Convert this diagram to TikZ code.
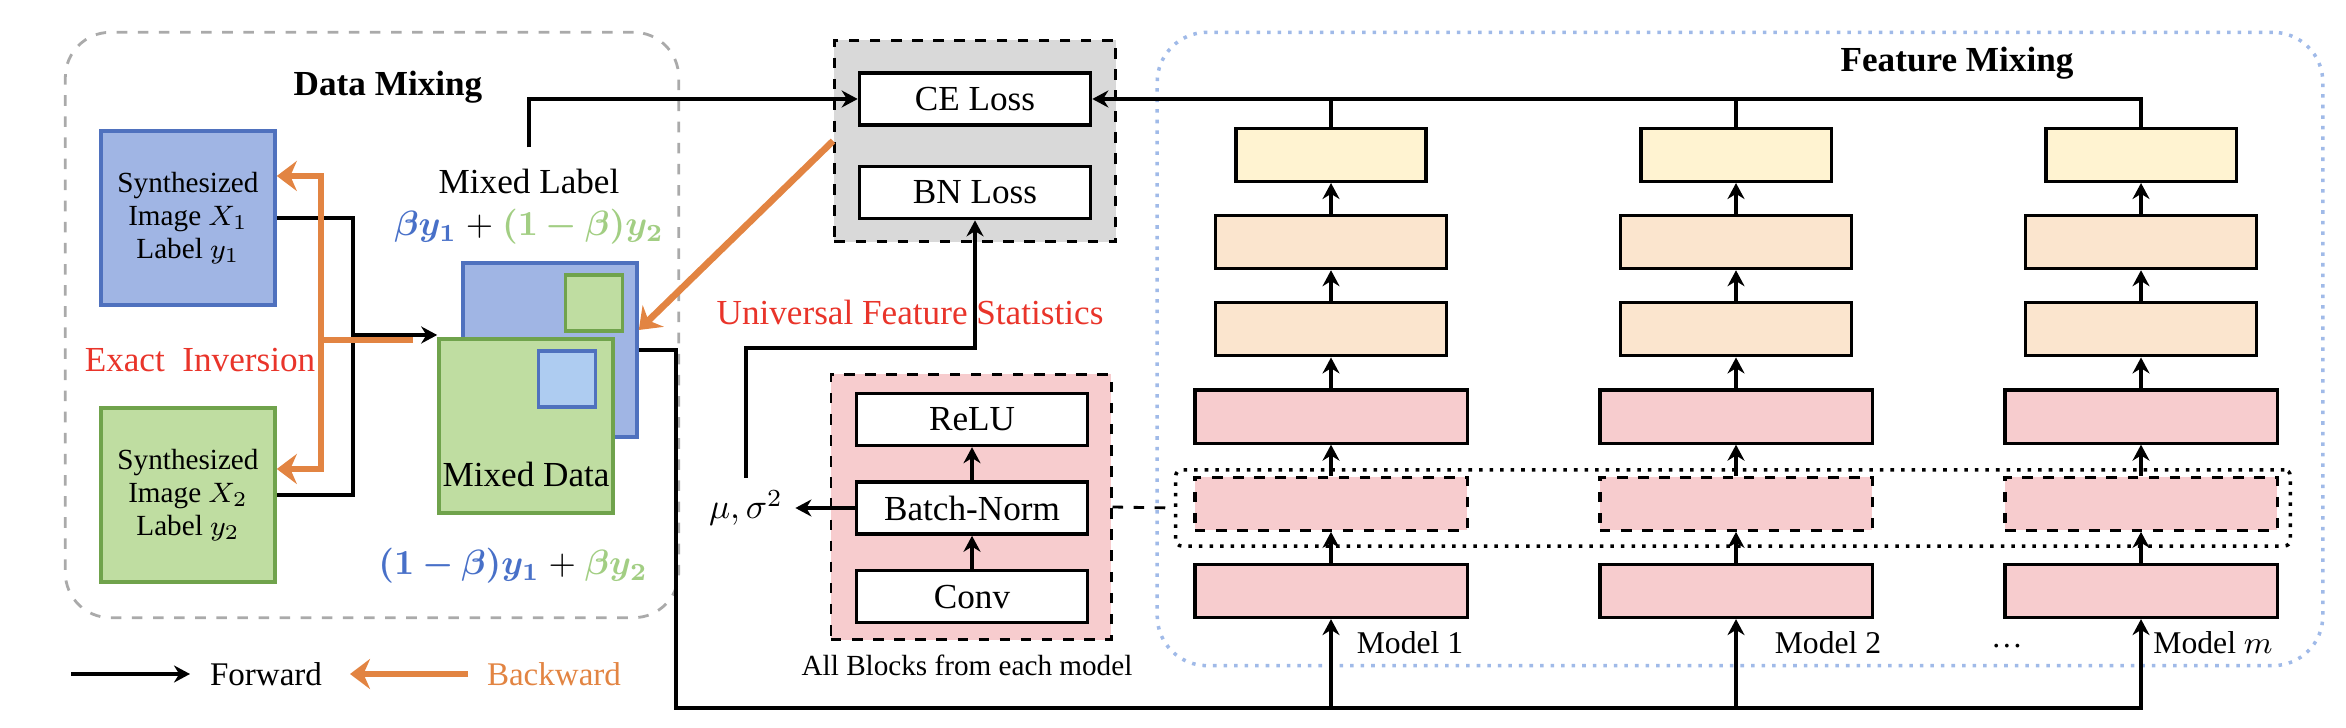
\documentclass[tikz,border=0pt]{standalone}
\usepackage{amsmath, amssymb, bm}
\usepackage{fontspec}
\setmainfont{Liberation Serif}
\usetikzlibrary{arrows.meta, positioning}

\definecolor{imgblue}{RGB}{160,181,228}
\definecolor{imgblueline}{RGB}{79,113,190}
\definecolor{imggreen}{RGB}{191,221,161}
\definecolor{imggreenline}{RGB}{112,163,76}
\definecolor{patchblue}{RGB}{174,204,241}
\definecolor{backorange}{RGB}{226,132,66}
\definecolor{labelred}{RGB}{233,52,42}
\definecolor{layerpink}{RGB}{247,204,206}
\definecolor{layerorange}{RGB}{251,229,206}
\definecolor{layeryellow}{RGB}{255,243,209}
\definecolor{lossgray}{RGB}{217,217,217}
\definecolor{mixgray}{RGB}{170,170,170}
\definecolor{featblue}{RGB}{160,186,232}
\definecolor{mathblue}{RGB}{72,112,200}
\definecolor{mathgreen}{RGB}{162,206,131}

\begin{document}
\begin{tikzpicture}[
    x=0.01cm, y=-0.01cm,
    node distance=0.31cm,
    image/.style={rectangle, draw=imgblueline, fill=imgblue, line width=1pt, minimum width=1.74cm, minimum height=1.74cm, align=center, inner sep=0pt, font=\fontsize{8.3}{9.4}\selectfont},
    patch/.style={rectangle, line width=1pt, minimum width=0.57cm, minimum height=0.56cm, inner sep=0pt},
    lossterm/.style={rectangle, draw=black, fill=white, line width=1pt, minimum width=2.31cm, minimum height=0.52cm, inner sep=0pt, font=\fontsize{10}{12}\selectfont},
    group/.style={rectangle, draw=black, dashed, line width=0.8pt},
    layer/.style={rectangle, draw=black, line width=0.9pt, minimum height=0.53cm, inner sep=0pt},
    pinklayer/.style={layer, fill=layerpink, minimum width=2.72cm},
    midlayer/.style={layer, fill=layerorange, minimum width=2.31cm},
    headlayer/.style={layer, fill=layeryellow, minimum width=1.9cm},
    arrow/.style={line width=1.3pt, ->, >={Stealth[length=0.16cm, width=0.17cm]}},
    link/.style={line width=1.3pt},
    backarrow/.style={draw=backorange, line width=1.9pt, ->, >={Stealth[length=0.2cm, width=0.3cm]}},
    title/.style={font=\fontsize{10}{12}\selectfont\bfseries},
    caption/.style={font=\fontsize{10}{12}\selectfont}
]
\useasboundingbox (0,0) rectangle (2346,728);

% Data mixing
\node (datamix) [rectangle, draw=mixgray, dashed, line width=0.8pt, rounded corners=0.45cm, minimum width=6.13cm, minimum height=5.85cm] at (372,325) {};
\node [title] at (388,87) {Data Mixing};
\node (synth1) [image] at (188,218) {Synthesized\\Image $X_1$\\Label $y_1$};
\node (synth2) [image, draw=imggreenline, fill=imggreen] at (188,495) {Synthesized\\Image $X_2$\\Label $y_2$};
\node (mixback) [image] at (550,350) {};
\node (patchgreen) [patch, draw=imggreenline, fill=imggreen] at (594,303) {};
\node (mixfront) [image, draw=imggreenline, fill=imggreen] at (526,426) {};
\node (patchblue) [patch, draw=imgblueline, fill=patchblue] at (567,379) {};
\node [caption, anchor=base] at ([yshift=0.28cm]mixfront.south) {Mixed Data};
\node (mixlabel) [caption, align=center, inner ysep=6pt] at (529,207) {Mixed Label\\{\color{mathblue}$\boldsymbol{\beta y_1}$} $+$ {\color{mathgreen}$\boldsymbol{(1-\beta)y_2}$}};
\node [caption] at (513,566) {{\color{mathblue}$\boldsymbol{(1-\beta)y_1}$} $+$ {\color{mathgreen}$\boldsymbol{\beta y_2}$}};
\node [caption, text=labelred] at (200,360) {Exact~~Inversion};

% Losses
\node (lossbox) [group, fill=lossgray, minimum width=2.81cm, minimum height=2.01cm] at (975,141) {};
\node (celoss) [lossterm] at (975,99) {CE Loss};
\node (bnloss) [lossterm, below=0.38cm of celoss] {BN Loss};

% Block of each model
\node (blockbox) [group, fill=layerpink, minimum width=2.8cm, minimum height=2.65cm] at (971,507) {};
\node (bnorm) [lossterm] at (972,508) {Batch-Norm};
\node (relu) [lossterm, above=0.33cm of bnorm] {ReLU};
\node (conv) [lossterm, below=0.33cm of bnorm] {Conv};
\node [font=\fontsize{8.3}{10}\selectfont] at (967,665) {All Blocks from each model};
\node (musig) [caption] at (746,508) {$\mu,\sigma^2$};
\node [caption, text=labelred] at (910,312) {Universal Feature Statistics};
\coordinate (statbend) at (746,348);

% Feature mixing
\node (featmix) [rectangle, draw=featblue, dotted, line width=1pt, rounded corners=0.5cm, minimum width=11.65cm, minimum height=6.33cm] at (1740,349) {};
\node [title] at (1957,63) {Feature Mixing};
\node (normrow) [rectangle, draw=black, dotted, line width=1pt, rounded corners=0.06cm, minimum width=11.14cm, minimum height=0.76cm] at (1733,508) {};

% Model 1
\node (stem1) [pinklayer] at (1331,591) {};
\node (norm1) [pinklayer, dashed, above=of stem1] {};
\node (stage1) [pinklayer, above=of norm1] {};
\node (deepa1) [midlayer, above=of stage1] {};
\node (deepb1) [midlayer, above=of deepa1] {};
\node (head1) [headlayer, above=of deepb1] {};

% Model 2
\node (stem2) [pinklayer] at (1736,591) {};
\node (norm2) [pinklayer, dashed, above=of stem2] {};
\node (stage2) [pinklayer, above=of norm2] {};
\node (deepa2) [midlayer, above=of stage2] {};
\node (deepb2) [midlayer, above=of deepa2] {};
\node (head2) [headlayer, above=of deepb2] {};

% Model m
\node (stemm) [pinklayer] at (2141,591) {};
\node (normm) [pinklayer, dashed, above=of stemm] {};
\node (stagem) [pinklayer, above=of normm] {};
\node (deepam) [midlayer, above=of stagem] {};
\node (deepbm) [midlayer, above=of deepam] {};
\node (headm) [headlayer, above=of deepbm] {};

\node [font=\fontsize{9}{11}\selectfont] at (1410,643) {Model 1};
\node [font=\fontsize{9}{11}\selectfont] at (1828,643) {Model 2};
\node [font=\fontsize{9}{11}\selectfont] at (2213,643) {Model $m$};
\node [font=\fontsize{9}{11}\selectfont] at (2007,646) {\dots};

% Legend
\coordinate (fwdstart) at (71,674);
\coordinate (fwdend) at (190,674);
\coordinate (bwdstart) at (468,674);
\coordinate (bwdend) at (350,674);
\node [font=\fontsize{9.4}{11}\selectfont] at (266,674) {Forward};
\node [font=\fontsize{9.4}{11}\selectfont, text=backorange] at (554,674) {Backward};

% Arrows
\coordinate (joint) at (353,335);
\draw [link] (synth1.east) -| (joint) |- (synth2.east);
\draw [arrow] (joint) -- (joint -| mixfront.west);
\coordinate (invstart) at (413,340);
\coordinate (invsplit) at (321,340);
\draw [backarrow] (invstart) -- (invsplit) |- ([yshift=0.42cm]synth1.east);
\draw [backarrow] (invsplit) |- ([yshift=0.26cm]synth2.east);

\draw [arrow] (mixlabel.north) |- (celoss.west);
\draw [backarrow] (lossbox.west) -- ([yshift=0.2cm]mixback.east);

\draw [arrow] (conv) -- (bnorm);
\draw [arrow] (bnorm) -- (relu);
\draw [arrow] (bnorm.west) -- (musig.east);
\draw [arrow] (musig.north) -- (statbend) -| (bnloss.south);
\draw [dashed, line width=0.8pt] (blockbox.east) -- (normrow.west);

\coordinate (busturn) at (676,708);
\draw [arrow] (mixback.east) -| (busturn) -| (stemm.south);
\draw [arrow] (stem1.south |- busturn) -- (stem1.south);
\draw [arrow] (stem2.south |- busturn) -- (stem2.south);

\draw [arrow] (stem1) -- (norm1);
\draw [arrow] (norm1) -- (stage1);
\draw [arrow] (stage1) -- (deepa1);
\draw [arrow] (deepa1) -- (deepb1);
\draw [arrow] (deepb1) -- (head1);
\draw [arrow] (stem2) -- (norm2);
\draw [arrow] (norm2) -- (stage2);
\draw [arrow] (stage2) -- (deepa2);
\draw [arrow] (deepa2) -- (deepb2);
\draw [arrow] (deepb2) -- (head2);
\draw [arrow] (stemm) -- (normm);
\draw [arrow] (normm) -- (stagem);
\draw [arrow] (stagem) -- (deepam);
\draw [arrow] (deepam) -- (deepbm);
\draw [arrow] (deepbm) -- (headm);

\draw [arrow] (headm.north) |- (celoss.east);
\draw [link] (head1.north) -- (head1.north |- celoss.east);
\draw [link] (head2.north) -- (head2.north |- celoss.east);

\draw [arrow] (fwdstart) -- (fwdend);
\draw [backarrow] (bwdstart) -- (bwdend);

\end{tikzpicture}
\end{document}
